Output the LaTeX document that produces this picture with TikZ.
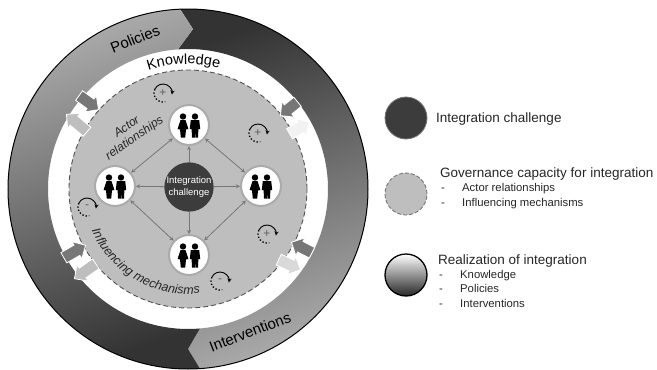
\documentclass[tikz,border=0pt]{standalone}
\usepackage{fontspec}
\setmainfont{Liberation Sans}
\usetikzlibrary{shapes.arrows,decorations.text}
\definecolor{ringdark}{HTML}{333333}
\definecolor{ringlight}{HTML}{ABABAB}
\definecolor{discgray}{HTML}{BEBEBE}
\definecolor{linkgray}{HTML}{777777}
\definecolor{coregray}{HTML}{3C3C3C}
\definecolor{inkgray}{HTML}{262626}
\tikzset{
  blockdark/.style={single arrow,single arrow head extend=4pt,single arrow head indent=0pt,
    inner xsep=0pt,inner ysep=5.5pt,anchor=tip,fill=linkgray,draw=white,line width=.8pt},
  blocklight/.style={blockdark,fill=#1},
  pics/actors/.style={code={
    \fill[black] (-6,8.5) circle[radius=3.2];
    \fill[black] (6,8.5) circle[radius=3.2];
    \fill[black] (-8.5,5) -- (-3.5,5) -- (-.6,-4) -- (-3,-4.5) -- (-3.8,-12.5) -- (-8.2,-12.5) -- (-9,-4.5) -- (-11.4,-4) -- cycle;
    \fill[black] (1.8,5) -- (10.2,5) -- (11.2,-4) -- (9.4,-4) -- (9,-12.5) -- (6.4,-12.5) -- (6,-4) -- (5.8,-12.5) -- (3,-12.5) -- (2.6,-4) -- (.8,-4) -- cycle;
  }},
  pics/turn/.style={code={
    \draw[black,line width=.9pt,-stealth] (155:9) arc[start angle=155,end angle=-10,radius=9];
    \draw[black,line width=1.3pt,dotted] (155:9) arc[start angle=155,end angle=285,radius=9];
    \node[text=linkgray!80!black,font=\fontsize{12}{12}\selectfont] (-sign) at (0,0) {#1};
  }},
}
\begin{document}
\begin{tikzpicture}[x=1pt,y=1pt]
  \useasboundingbox (0,0) rectangle (657,-370);

  % outer ring
  \begin{scope}[shift={(188,-189)}]
    \shade[top color=ringdark,bottom color=ringlight,shading angle=20]
      (92.5:180) arc[start angle=92.5,end angle=-86.2,radius=180] -- (-90:160)
      -- (-85.1:140) arc[start angle=-85.1,end angle=94.1,radius=140] -- (88.2:160) -- cycle;
    \shade[top color=ringlight,bottom color=ringdark,shading angle=20]
      (-86.2:180) arc[start angle=-86.2,end angle=-267.5,radius=180] -- (88.2:160)
      -- (94.1:140) arc[start angle=94.1,end angle=274.9,radius=140] -- (-90:160) -- cycle;
    \draw[black,line width=1pt] (0,0) circle[radius=180];
    \path[decorate,decoration={text along path,text align=center,
      text={|\fontsize{14.5}{14.5}\selectfont|Knowledge}}]
      (125:125) arc[start angle=125,end angle=59,radius=125];
    \fill[discgray] (0,0) circle[radius=119];
    \draw[inkgray!80,line width=.9pt,dash pattern=on 5pt off 3pt] (0,0) circle[radius=119];
    \path[decorate,decoration={text along path,text align=center,
      text={|\fontsize{12.5}{12.5}\selectfont\itshape\color{inkgray}|Influencing mechanisms}}]
      (190:105) arc[start angle=190,end angle=290,radius=105];
  \end{scope}
  \node[rotate=22,inner sep=0pt,font=\fontsize{15}{15}\selectfont] (policies) at (135,-39) {Policies};
  \node[rotate=21,inner sep=0pt,font=\fontsize{15}{15}\selectfont] (interventions) at (250,-332) {Interventions};

  % block arrows
  \node[blockdark,rotate=-36,minimum height=24pt] (inNW) at (99,-110) {};
  \node[blocklight=discgray,rotate=140,minimum height=27pt] (outNW) at (66,-114) {};
  \node[blockdark,rotate=219,minimum height=22pt] (inNE) at (280,-116) {};
  \node[blocklight=white!95!black,rotate=30,minimum height=23pt] (outNE) at (310,-122) {};
  \node[blockdark,rotate=30,minimum height=25pt] (inSW) at (86,-245) {};
  \node[blocklight=discgray,rotate=215,minimum height=26pt] (outSW) at (74,-279) {};
  \node[blockdark,rotate=153,minimum height=23pt] (inSE) at (291,-242) {};
  \node[blocklight=white!85!black,rotate=-25,minimum height=24pt] (outSE) at (301,-270) {};

  \begin{scope}[every node/.style={circle,draw=ringlight,fill=white,line width=2pt,minimum size=40pt,inner sep=0pt}]
    \node (actorN) at (189,-125) {};
    \node (actorW) at (115,-186) {};
    \node (actorE) at (261,-186) {};
    \node (actorS) at (189,-255) {};
  \end{scope}
  \node[circle,fill=coregray,minimum size=48pt,inner sep=0pt,align=center,text=white,
    font=\fontsize{9.5}{12}\selectfont] (core) at (189,-187) {Integration\\challenge};

  \begin{scope}[every edge/.style={draw=linkgray,line width=.8pt}]
    \path (core) edge[-stealth] (actorN);
    \path (core) edge[-stealth] (actorW);
    \path (core) edge[-stealth] (actorE);
    \path (core) edge[-stealth] (actorS);
    \path (actorN) edge[stealth-stealth] (actorE);
    \path (actorE) edge[stealth-stealth] (actorS);
    \path (actorS) edge[stealth-stealth] (actorW);
    \path (actorW) edge[stealth-stealth] (actorN);
  \end{scope}

  \pic at (actorN) {actors};
  \pic at (actorW) {actors};
  \pic at (actorE) {actors};
  \pic at (actorS) {actors};

  \pic (turnNW) at (163,-93) {turn=+};
  \pic (turnNE) at (258,-133) {turn=+};
  \pic (turnSE) at (267,-234) {turn=+};
  \pic (turnS) at (220,-281) {turn=-};
  \pic (turnW) at (87,-207) {turn=-};

  \node[rotate=35,align=center,text=inkgray,font=\fontsize{12}{13.5}\selectfont\itshape] (actorlabel) at (131,-133) {Actor\\relationships};

  % legend
  \node[circle,fill=coregray,draw=linkgray,line width=.8pt,minimum size=42pt,inner sep=0pt] (keycore) at (406,-118) {};
  \node[circle,fill=discgray,draw=linkgray,line width=.9pt,dash pattern=on 4pt off 2pt,minimum size=42pt,inner sep=0pt] (keydisc) at (406,-194) {};
  \node[circle,top color=white,bottom color=black!85,draw=black,line width=1.3pt,minimum size=42pt,inner sep=0pt] (keyring) at (406,-275) {};

  \begin{scope}[every node/.style={anchor=base west,inner sep=0pt,text=inkgray,font=\fontsize{13.5}{13.5}\selectfont}]
    \node (titlecore) at (436,-122) {Integration challenge};
    \node (titledisc) at (440,-177) {Governance capacity for integration};
    \node (titlering) at (438,-264) {Realization of integration};
  \end{scope}
  \begin{scope}[every node/.style={anchor=base west,inner sep=0pt,text=inkgray,font=\fontsize{11.3}{11.3}\selectfont}]
    \node (dashA) at (441,-191) {-};
    \node (itemA) at (462,-191) {Actor relationships};
    \node (dashB) at (441,-206) {-};
    \node (itemB) at (462,-206) {Influencing mechanisms};
    \node (dashC) at (439,-278) {-};
    \node (itemC) at (460,-278) {Knowledge};
    \node (dashD) at (439,-292) {-};
    \node (itemD) at (460,-292) {Policies};
    \node (dashE) at (439,-307) {-};
    \node (itemE) at (460,-307) {Interventions};
  \end{scope}
\end{tikzpicture}
\end{document}
